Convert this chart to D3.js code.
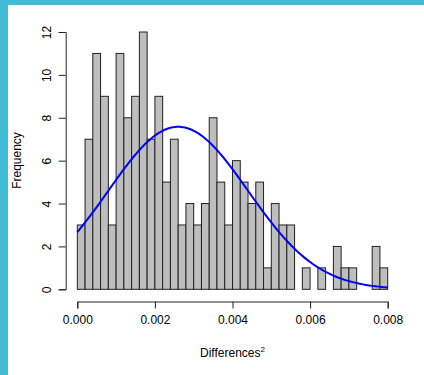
<!DOCTYPE html>
<html><head><meta charset="utf-8">
<script src="https://cdn.jsdelivr.net/npm/d3@7"></script>
<style>html,body{margin:0;padding:0;background:#fff;overflow:hidden}</style>
</head><body>
<script>
const binWidth = 0.0002;
const counts = [3,7,11,9,3,11,8,9,12,7,9,5,7,3,4,3,4,8,5,3,6,5,4,5,1,4,3,3,0,1,0,1,0,2,1,1,0,0,2,1];
const xTicks = [0, 0.002, 0.004, 0.006, 0.008];
const yTicks = [0, 2, 4, 6, 8, 10, 12];
const fitMean = 0.0026, fitSd = 0.0018;

const W = 424, H = 375;
const svg = d3.select("body").append("svg").attr("width", W).attr("height", H);
svg.append("rect").attr("width", W).attr("height", H).attr("fill", "#fff");
svg.append("rect").attr("x",0).attr("y",0).attr("width",W).attr("height",5).attr("fill","#41bbd6");
svg.append("rect").attr("x",0).attr("y",0).attr("width",8).attr("height",H).attr("fill","#41bbd6");

const x = d3.scaleLinear().domain([0, 0.008]).range([77.3, 387.7]);
const y = d3.scaleLinear().domain([0, 12]).range([289.3, 32]);
const font = "Liberation Sans, Arial, sans-serif";

const bins = counts.map((c,i)=>({x0:i*binWidth, x1:(i+1)*binWidth, c}));
svg.append("g").selectAll("rect").data(bins).join("rect")
  .attr("x", d=>x(d.x0)).attr("width", d=>x(d.x1)-x(d.x0))
  .attr("y", d=>y(d.c)).attr("height", d=>y(0)-y(d.c))
  .attr("fill", "#bebebe").attr("stroke", "#222").attr("stroke-width", 1);

// normal curve
const N = d3.sum(counts);
const pts = d3.range(0, 101).map(i => {
  const xv = 0.008 * i / 100;
  const dens = Math.exp(-((xv-fitMean)**2)/(2*fitSd*fitSd)) / (fitSd*Math.sqrt(2*Math.PI));
  return [xv, dens * N * binWidth];
});
svg.append("path").datum(pts)
  .attr("d", d3.line().x(d=>x(d[0])).y(d=>y(d[1])))
  .attr("fill","none").attr("stroke","#0000ff").attr("stroke-width",2);

// x axis
const xa = svg.append("g").attr("transform","translate(0,301.5)")
  .call(d3.axisBottom(x).tickValues(xTicks).tickFormat(d3.format(".3f")).tickSizeOuter(0).tickSize(7).tickPadding(7));
xa.select(".domain").attr("stroke","#222");
xa.selectAll("line").attr("stroke","#222");
xa.selectAll("text").attr("font-family",font).attr("font-size",12).attr("fill","#000");

// y axis
const ya = svg.append("g").attr("transform","translate(65.7,0)")
  .call(d3.axisLeft(y).tickValues(yTicks).tickSizeOuter(0).tickSize(7).tickPadding(0));
ya.select(".domain").attr("stroke","#222");
ya.selectAll("line").attr("stroke","#222");
ya.selectAll("text").attr("font-family",font).attr("font-size",12).attr("fill","#000")
  .attr("text-anchor","middle").attr("dy",0).attr("x",0)
  .attr("transform","translate(-18,0) rotate(-90)").attr("dominant-baseline","middle");

// labels
svg.append("text").attr("transform","translate(21,160.5) rotate(-90)")
  .attr("text-anchor","middle").attr("font-family",font).attr("font-size",12).text("Frequency");
const xl = svg.append("text").attr("x",232.5).attr("y",357)
  .attr("text-anchor","middle").attr("font-family",font).attr("font-size",12);
xl.append("tspan").text("Differences");
xl.append("tspan").attr("font-size",8).attr("dy",-5).text("2");
</script>
</body></html>
